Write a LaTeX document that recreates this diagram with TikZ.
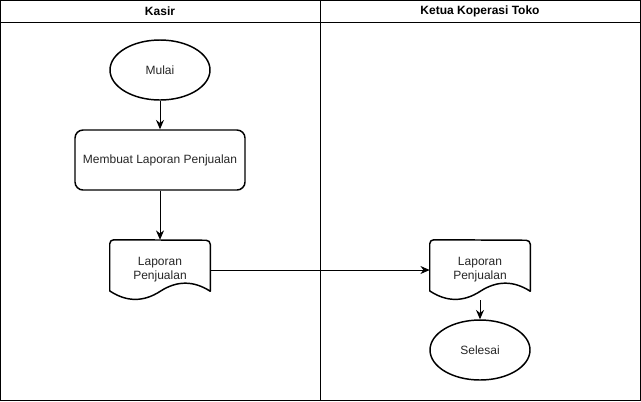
\documentclass[tikz,border=0pt]{standalone}
\usepackage{fontspec}
\setmainfont{Liberation Sans}
\usetikzlibrary{shapes.geometric,arrows.meta,calc}
\begin{document}
\begin{tikzpicture}[x=0.75pt,y=-0.75pt,
  every node/.style={font=\fontsize{9pt}{10.5pt}\selectfont, text=black!85},
  lane/.style={draw, line width=0.75pt},
  term/.style={draw, ellipse, line width=1.1pt, minimum width=75pt, minimum height=45pt, inner sep=0pt},
  proc/.style={draw, rounded corners=6pt, line width=1.1pt, minimum width=127.5pt, minimum height=45pt},
  docbox/.style={minimum width=75pt, minimum height=45pt, align=center, inner sep=0pt},
  docline/.style={draw, line width=1.1pt, line join=round},
  arr/.style={-{Stealth[length=7pt,width=6pt]}, line width=0.75pt},
  hdr/.style={font=\fontsize{9pt}{10.5pt}\selectfont\bfseries, text=black}
]
\useasboundingbox (0,0) rectangle (641,401);
% swimlanes
\draw[lane] (0.5,0.5) rectangle (640.5,400.5);
\draw[lane] (0.5,22) -- (640.5,22);
\draw[lane] (320.5,0.5) -- (320.5,400.5);
\node[hdr] (h1) at (160,11) {Kasir};
\node[hdr] (h2) at (480,11) {Ketua Koperasi Toko};

% nodes
\node[term] (mulai) at (160,70) {Mulai};
\node[proc] (buat) at (160,160) {Membuat Laporan Penjualan};
\node[docbox] (docA) at (160,270) {Laporan\\Penjualan};
\node[docbox] (docB) at (480,270) {Laporan\\Penjualan};
\node[term] (selesai) at (480,350) {Selesai};

% document shapes
\foreach \d in {docA,docB}{
  \path (\d.north west) coordinate (nw) (\d.south east) coordinate (se);
  \draw[docline, rounded corners=3pt]
    ($(nw)+(0,51)$) -- (nw) -- ($(se)+(0,-60)$) [sharp corners] -- ($(se)+(0,-9)$)
    .. controls ($(se)+(-16.67,-19.8)$) and ($(se)+(-33.33,-19.8)$) .. ($(se)+(-50,-9)$)
    .. controls ($(se)+(-66.67,1.8)$) and ($(se)+(-83.33,1.8)$) .. ($(se)+(-100,-9)$) -- cycle;
}

% connectors
\draw[arr] (mulai) -- (buat);
\draw[arr] (buat) -- (docA);
\draw[arr] (docA.east) -- (docB.west);
\draw[arr] (docB.south) -- (selesai.north);
\end{tikzpicture}
\end{document}
